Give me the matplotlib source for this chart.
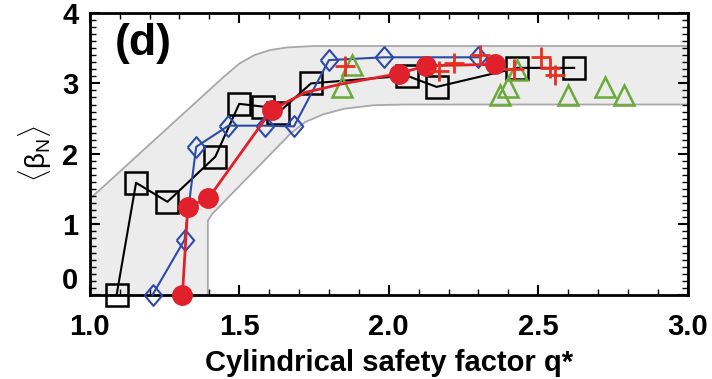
import matplotlib.pyplot as plt
from matplotlib.ticker import MultipleLocator
from matplotlib.transforms import blended_transform_factory, ScaledTranslation

plt.rcParams['font.family'] = ['Liberation Sans', 'DejaVu Sans']
plt.rcParams['mathtext.fontset'] = 'custom'
plt.rcParams['mathtext.rm'] = 'Liberation Sans'

# black squares
q_sq = [1.09, 1.155, 1.26, 1.42, 1.50, 1.58, 1.63, 1.74, 2.06, 2.16, 2.43, 2.62]
b_sq = [0.0, 1.59, 1.32, 1.96, 2.71, 2.67, 2.58, 3.00, 3.11, 2.95, 3.22, 3.22]

# blue diamonds
q_di = [1.21, 1.317, 1.356, 1.464, 1.586, 1.683, 1.80, 1.983, 2.30]
b_di = [0.0, 0.78, 2.10, 2.40, 2.40, 2.39, 3.33, 3.37, 3.37]

# red circles (line goes through two unmarked points)
q_rc = [1.31, 1.328, 1.397, 1.608, 1.72, 1.84, 2.035, 2.125, 2.355]
b_rc = [0.0, 1.25, 1.37, 2.62, 2.87, 2.99, 3.14, 3.25, 3.27]
rc_marked = [0, 1, 2, 3, 6, 7, 8]

# red pluses
q_pl = [1.855, 2.168, 2.217, 2.306, 2.42, 2.51, 2.54, 2.555]
b_pl = [3.24, 3.17, 3.29, 3.40, 3.20, 3.38, 3.22, 3.12]

# green triangles
q_tr = [1.843, 1.878, 2.372, 2.40, 2.43, 2.60, 2.722, 2.787]
b_tr = [2.95, 3.26, 2.84, 2.95, 3.19, 2.84, 2.95, 2.84]

# gray band boundaries
band_up_q = [1.0, 1.45, 1.50, 1.55, 1.60, 1.66, 1.75, 3.0]
band_up_b = [1.36, 3.10, 3.28, 3.40, 3.47, 3.51, 3.53, 3.53]
band_lo_q = [1.395, 1.395, 1.41, 1.67, 1.72, 1.78, 1.85, 1.95, 2.05, 3.0]
band_lo_b = [0.0, 1.05, 1.15, 2.28, 2.45, 2.56, 2.64, 2.69, 2.70, 2.70]

fig = plt.figure(figsize=(7.12, 3.79), dpi=100)
ax = fig.add_axes([0.126, 0.222, 0.840, 0.744])

# band polygon
poly_q = [1.0] + band_up_q + band_lo_q[::-1] + [1.0]
poly_b = [0.0] + band_up_b + band_lo_b[::-1] + [0.0]
ax.fill(poly_q, poly_b, color='#ececec', lw=0, zorder=0)
ax.plot(band_up_q, band_up_b, color='#a8a8a8', lw=1.3, zorder=1)
ax.plot(band_lo_q, band_lo_b, color='#a8a8a8', lw=1.3, zorder=1)

ax.plot(q_sq, b_sq, color='black', lw=1.5, marker='s', ms=16, mfc='none',
        mec='black', mew=1.8, zorder=3, clip_on=False)
dia = [(-0.42, 0), (0, 0.5), (0.42, 0), (0, -0.5), (-0.42, 0)]
ax.plot(q_di, b_di, color='#2c4aa8', lw=1.5, marker=dia, ms=15, mfc='none',
        mec='#2c4aa8', mew=1.5, zorder=4, clip_on=False)
ax.plot(q_tr, b_tr, ls='none', marker='^', ms=14, mfc='none', mec='#6aaa3a',
        mew=1.8, zorder=5)
ax.plot(q_rc, b_rc, color='#e0202a', lw=2, marker='o', ms=14, mfc='#e0202a',
        mec='#e0202a', markevery=rc_marked, zorder=6, clip_on=False)
ax.plot(q_pl, b_pl, ls='none', marker='+', ms=15, mec='#e83020', mew=2, zorder=7)

ax.text(1.085, 3.57, '(d)', fontsize=32, fontweight='bold', va='center', ha='left')

ax.set_xlim(1.0, 3.0)
ax.set_ylim(0, 4)
ax.xaxis.set_major_locator(MultipleLocator(0.5))
ax.xaxis.set_minor_locator(MultipleLocator(0.1))
ax.yaxis.set_major_locator(MultipleLocator(1))
ax.yaxis.set_minor_locator(MultipleLocator(0.1))
ax.xaxis.set_major_formatter(plt.FuncFormatter(lambda v, p: '%.1f' % v))
# "0" is written by hand below, a bit above the axis line like the original
ax.yaxis.set_major_formatter(plt.FuncFormatter(lambda v, p: '' if v == 0 else '%d' % v))
ax.tick_params(which='both', direction='in', top=True, right=True)
ax.tick_params(which='major', length=7, width=1.5, labelsize=21, labelfontfamily='Liberation Sans')
ax.tick_params(axis='x', which='major', pad=13)
ax.tick_params(axis='y', which='major', pad=8)
ax.tick_params(which='minor', length=4, width=1)
for lab in ax.get_xticklabels() + ax.get_yticklabels():
    lab.set_fontweight('bold')
for s in ax.spines.values():
    s.set_linewidth(2)

trans = blended_transform_factory(ax.transAxes, ax.transData) + \
    ScaledTranslation(-8 / 72, 0, fig.dpi_scale_trans)
ax.text(0, 0, '0', transform=trans, fontsize=21, fontweight='bold',
        ha='right', va='bottom')

ax.set_xlabel('Cylindrical safety factor q*', fontsize=21, fontweight='bold', labelpad=6)
ax.set_ylabel(r'$\langle\mathrm{\beta}_\mathrm{N}\rangle$', fontsize=20, labelpad=6)

fig.savefig('out.png', dpi=100)
